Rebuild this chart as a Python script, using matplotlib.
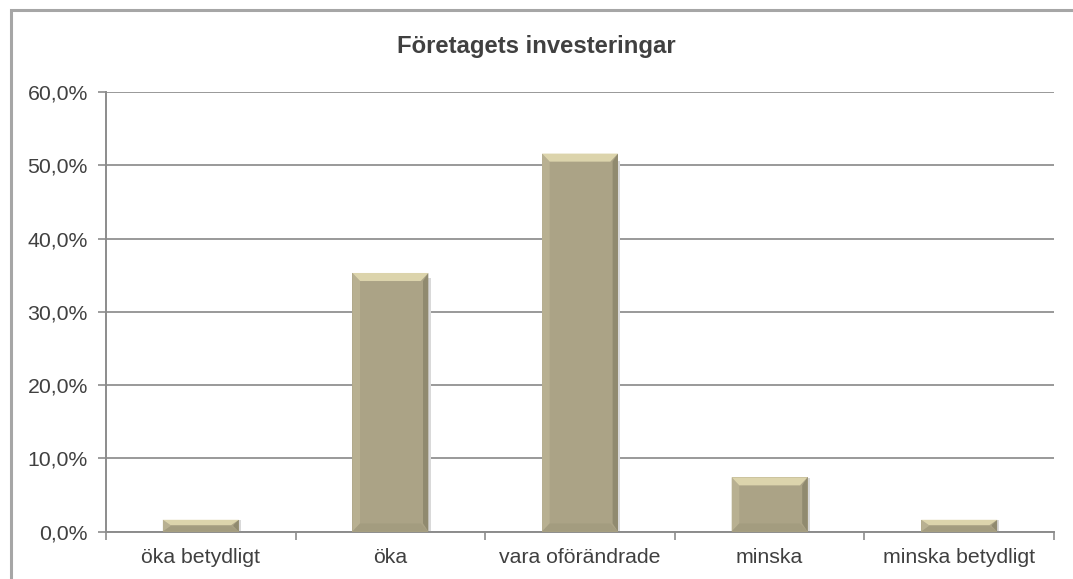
import matplotlib
matplotlib.use("Agg")
import matplotlib.pyplot as plt
from matplotlib.patches import Polygon, Rectangle
from matplotlib.ticker import FuncFormatter, MultipleLocator

plt.rcParams['font.family'] = ['Liberation Sans', 'DejaVu Sans']

categories = ["öka betydligt", "öka", "vara oförändrade", "minska", "minska betydligt"]
values = [1.6, 35.3, 51.6, 7.4, 1.6]
title = "Företagets investeringar"

fig = plt.figure(figsize=(10.73, 5.79), dpi=100)
ax = fig.add_axes([0.0988, 0.082, 0.8835, 0.759])

# outer chart border
fig.patches.append(Rectangle((11 / 1073, -0.05), 1.1, 1 - 10 / 579 + 0.05,
                             transform=fig.transFigure, fill=False,
                             edgecolor='#a6a6a6', linewidth=2.2, zorder=0))

x = range(len(categories))
w = 0.4
face = '#aba386'
ax.bar(x, values, width=w, color=face, zorder=3, linewidth=0)

# bevel effect
bx = 0.04
for i, v in zip(x, values):
    by = min(1.1, v / 2.2)
    l, r = i - w / 2, i + w / 2
    top = [(l, v), (r, v), (r - bx, v - by), (l + bx, v - by)]
    left = [(l, 0), (l, v), (l + bx, v - by), (l + bx, by)]
    right = [(r, 0), (r, v), (r - bx * 0.7, v - by), (r - bx * 0.7, by)]
    bottom = [(l, 0), (r, 0), (r - bx, by), (l + bx, by)]
    ax.add_patch(Polygon(left, color='#b8b091', zorder=4, lw=0))
    ax.add_patch(Polygon(right, color='#908a6f', zorder=4, lw=0))
    ax.add_patch(Polygon(bottom, color='#a39c7f', zorder=4, lw=0))
    ax.add_patch(Polygon(top, color='#dcd4ac', zorder=4, lw=0))
    # soft shadow
    ax.add_patch(Rectangle((r, 0), 0.012, v * 0.98, color='#d9d9d9', zorder=2, lw=0))

ax.set_xlim(-0.5, len(categories) - 0.5)
ax.set_ylim(0, 60)
ax.yaxis.set_major_locator(MultipleLocator(10))
ax.yaxis.set_major_formatter(FuncFormatter(lambda v, p: f"{v:.1f}%".replace('.', ',')))
ax.set_xticks(list(x))
ax.set_xticklabels(categories)
ax.set_xticks([i - 0.5 for i in range(len(categories) + 1)], minor=True)
ax.tick_params(axis='x', which='major', length=0, pad=12, labelsize=15.3, labelcolor='#404040')
ax.tick_params(axis='x', which='minor', length=6, color='#8c8c8c', width=1.2)
ax.tick_params(axis='y', length=6, color='#8c8c8c', width=1.2, pad=7,
               labelsize=15.3, labelcolor='#404040')

ax.grid(axis='y', color='#999999', linewidth=1.4, zorder=1)
ax.set_axisbelow(True)
for s in ['top', 'right']:
    ax.spines[s].set_visible(False)
for s in ['left', 'bottom']:
    ax.spines[s].set_color('#8c8c8c')
    ax.spines[s].set_linewidth(1.4)

fig.text(0.5, 1 - 47 / 579, title, ha='center', va='center',
         fontsize=17.2, fontweight='bold', color='#404040')

fig.savefig("out.png", dpi=100)
